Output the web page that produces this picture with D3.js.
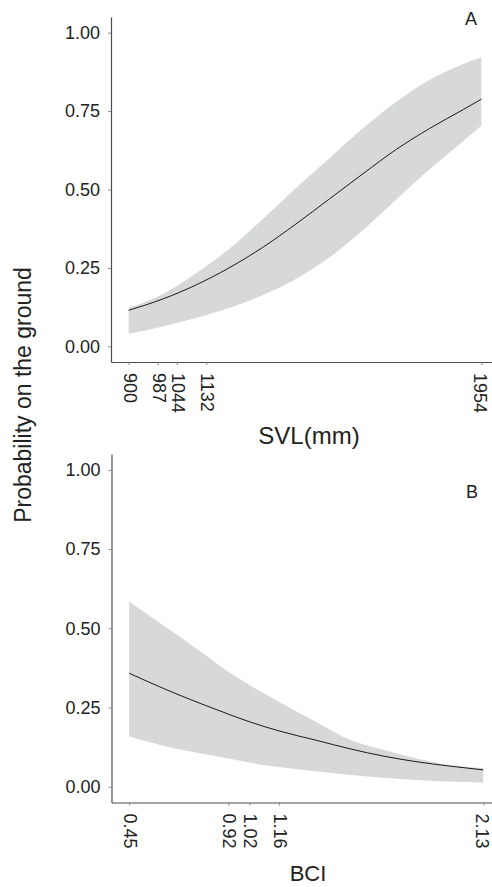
<!DOCTYPE html>
<html>
<head>
<meta charset="utf-8">
<script src="https://cdn.jsdelivr.net/npm/d3@7"></script>
<style>
  body { margin: 0; background: #fff; }
  svg { display: block; font-family: "Liberation Sans", Arial, sans-serif; }
</style>
</head>
<body>
<svg id="chart" width="492" height="887"></svg>
<script>
// panel A: SVL
var svl = [900, 1000, 1100, 1200, 1300, 1400, 1500, 1600, 1700, 1800, 1900, 1954];
var svlFit = [0.115, 0.150, 0.195, 0.250, 0.315, 0.390, 0.470, 0.550, 0.628, 0.695, 0.755, 0.788];
var svlUpper = [0.122, 0.165, 0.232, 0.310, 0.405, 0.505, 0.600, 0.695, 0.780, 0.850, 0.900, 0.922];
var svlLower = [0.040, 0.062, 0.090, 0.122, 0.163, 0.215, 0.283, 0.370, 0.468, 0.565, 0.655, 0.703];
var svlTicks = [900, 987, 1044, 1132, 1954];

// panel B: BCI
var bci = [0.45, 0.63, 0.79, 0.92, 1.02, 1.16, 1.34, 1.50, 1.66, 1.81, 1.97, 2.13];
var bciFit = [0.358, 0.305, 0.262, 0.229, 0.205, 0.176, 0.146, 0.119, 0.096, 0.079, 0.065, 0.053];
var bciUpper = [0.584, 0.501, 0.426, 0.363, 0.321, 0.268, 0.203, 0.147, 0.116, 0.090, 0.068, 0.058];
var bciLower = [0.158, 0.126, 0.105, 0.089, 0.076, 0.062, 0.048, 0.037, 0.028, 0.021, 0.016, 0.013];
var bciTicks = [0.45, 0.92, 1.02, 1.16, 2.13];

var yTicks = [0, 0.25, 0.5, 0.75, 1];

var svg = d3.select('#chart');

function expand(lo, hi){
  var e = (hi - lo) * 0.05;
  return [lo - e, hi + e];
}

function panel(opts){
  var x = d3.scaleLinear().domain(expand(d3.min(opts.xs), d3.max(opts.xs))).range([opts.left, opts.right]);
  var y = d3.scaleLinear().domain(expand(0, 1)).range([opts.bottom, opts.top]);

  var rows = opts.xs.map(function(v, i){
    return { x: v, fit: opts.fit[i], lo: opts.lower[i], hi: opts.upper[i] };
  });

  var g = svg.append('g');

  g.append('path')
    .datum(rows)
    .attr('fill', '#d7d8da')
    .attr('d', d3.area()
      .curve(d3.curveMonotoneX)
      .x(function(d){ return x(d.x); })
      .y0(function(d){ return y(d.lo); })
      .y1(function(d){ return y(d.hi); }));

  g.append('path')
    .datum(rows)
    .attr('fill', 'none')
    .attr('stroke', '#1a1a1a')
    .attr('stroke-width', 1)
    .attr('d', d3.line()
      .curve(d3.curveMonotoneX)
      .x(function(d){ return x(d.x); })
      .y(function(d){ return y(d.fit); }));

  var ya = g.append('g')
    .attr('transform', 'translate(' + opts.left + ',0)')
    .call(d3.axisLeft(y).tickValues(yTicks).tickFormat(d3.format('.2f')).tickSize(3).tickSizeOuter(0).tickPadding(8));

  var xa = g.append('g')
    .attr('transform', 'translate(0,' + opts.bottom + ')')
    .call(d3.axisBottom(x).tickValues(opts.ticks).tickFormat(function(d){ return String(d); }).tickSize(3).tickSizeOuter(0));

  var last = opts.ticks.length - 1;
  xa.selectAll('.tick text')
    .attr('transform', 'rotate(90)')
    .attr('x', 11)
    .attr('y', 0)
    .attr('dy', function(d, i){ return i === last ? '0.42em' : '0.3em'; })
    .attr('text-anchor', 'start');

  [ya, xa].forEach(function(a){
    a.select('.domain').attr('stroke', '#4d4d4d').attr('stroke-width', 1.2);
    a.selectAll('.tick line').attr('stroke', '#8a8a8a');
    a.selectAll('.tick text').attr('fill', '#222').style('font-size', '18px').style('font-family', '"Liberation Sans", Arial, sans-serif');
  });

  g.append('text')
    .attr('x', opts.tagX).attr('y', opts.tagY)
    .attr('fill', '#222')
    .style('font-size', '18px')
    .text(opts.tag);

  g.append('text')
    .attr('x', opts.titleX).attr('y', opts.titleY)
    .attr('text-anchor', 'middle')
    .attr('fill', '#222')
    .style('font-size', opts.titleSize)
    .text(opts.title);
}

panel({ xs: svl, fit: svlFit, upper: svlUpper, lower: svlLower, ticks: svlTicks,
  left: 111, right: 499, top: 17, bottom: 362,
  tag: 'A', tagX: 465, tagY: 25,
  title: 'SVL(mm)', titleX: 309, titleY: 444, titleSize: '24px' });

panel({ xs: bci, fit: bciFit, upper: bciUpper, lower: bciLower, ticks: bciTicks,
  left: 111.5, right: 501, top: 454, bottom: 802.5,
  tag: 'B', tagX: 466, tagY: 498,
  title: 'BCI', titleX: 308, titleY: 881, titleSize: '22px' });

svg.append('text')
  .attr('transform', 'translate(31,395) rotate(-90)')
  .attr('text-anchor', 'middle')
  .attr('fill', '#222')
  .style('font-size', '23px')
  .text('Probability on the ground');
</script>
</body>
</html>
